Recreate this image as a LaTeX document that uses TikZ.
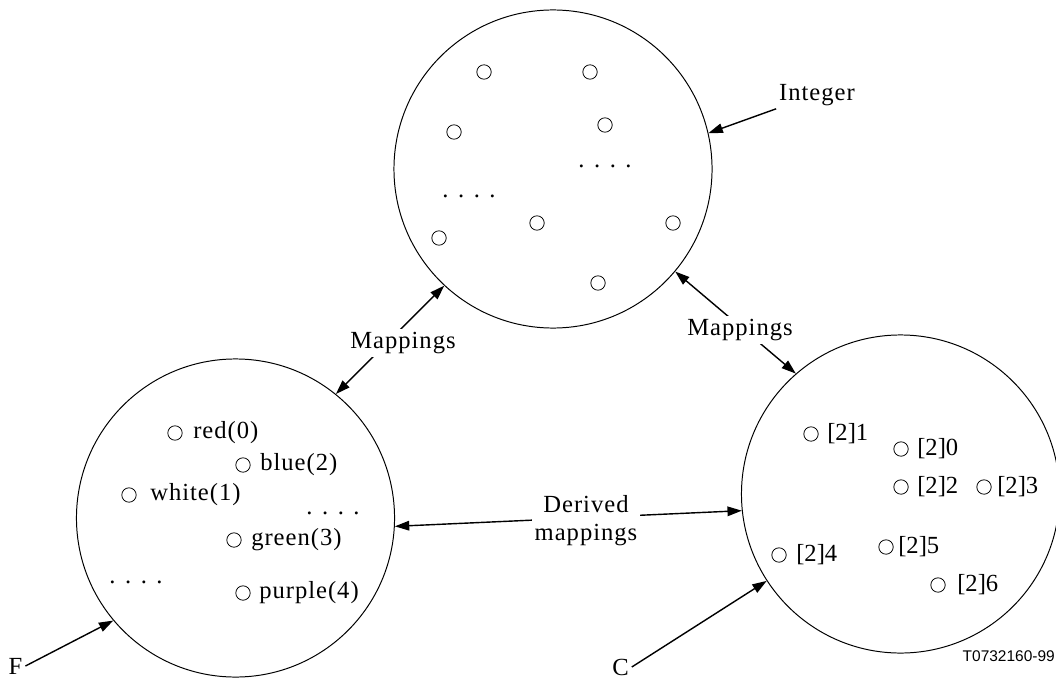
\documentclass[tikz,border=0pt]{standalone}
\usepackage{fontspec}
\setmainfont{Liberation Serif}
\newfontfamily\spacedrm{Liberation Serif}[LetterSpace=4]
\newfontfamily\codefont{Liberation Sans}
\usetikzlibrary{arrows.meta}

\begin{document}
\begin{tikzpicture}[
    x=0.025cm, y=-0.025cm,
    >={Triangle[length=0.36cm, width=0.24cm]},
    set/.style={circle, draw, line width=0.7pt, minimum size=7.95cm, inner sep=0},
    elt/.style={circle, draw, line width=0.55pt, minimum size=0.36cm, inner sep=0},
    lbl/.style={font=\spacedrm\fontsize{17.5}{20}\selectfont, inner sep=2pt},
    val/.style={font=\fontsize{17.5}{20}\selectfont, inner sep=0, anchor=west},
    arrow/.style={->, line width=1pt},
    twoway/.style={<->, line width=1pt}
]
\useasboundingbox (0,0) rectangle (1056,682);

% the three sets
\node[set] (int) at (553,169) {};
\node[set] (lft) at (235.5,518) {};
\node[set] (rgt) at (900.5,494) {};

% Integer values
\foreach \x/\y [count=\i] in {484/72, 590/72, 454/132, 605/125, 537/223, 673/223, 439/238, 598/283}
    \node[elt] (t\i) at (\x,\y) {};
\node[lbl] (tdots1) at (605,166) {. . . .};
\node[lbl] (tdots2) at (469,196) {. . . .};

% F values
\foreach \n/\x/\y/\tx/\s in {red/175/433/193/red(0), blue/243/465/260/blue(2), white/129/495/150/white(1), green/234/540/251/green(3), purple/243/593/259/purple(4)} {
    \node[elt] (\n) at (\x,\y) {};
    \node[val, font=\spacedrm\fontsize{17.5}{20}\selectfont] (\n-l) at (\tx,\y) {\s};
}
\node[lbl] (fdots1) at (333,513) {. . . .};
\node[lbl] (fdots2) at (136,582) {. . . .};

% C values
\foreach \n/\x/\y/\tx/\s in {c1/811/434/827/{[2]1}, c0/901/449/917/{[2]0}, c2/901/487/917/{[2]2}, c3/984/487/997/{[2]3}, c4/779/555/796/{[2]4}, c5/886/547/898/{[2]5}, c6/938/585/957/{[2]6}} {
    \node[elt] (\n) at (\x,\y) {};
    \node[val] (\n-l) at (\tx,\y) {\s};
}

% mappings
\draw[twoway] (lft.51) -- (int.227);
\node[lbl, fill=white] (mapl) at (403,343) {Mappings};
\draw[twoway] (int.-40.5) -- (rgt.131.6);
\node[lbl, fill=white] (mapr) at (740,330) {Mappings};
\draw[twoway] (lft.-3.5) -- (rgt.186);
\node[lbl, fill=white, align=center] (derived) at (586,521) {Derived\\mappings};

% names
\node[lbl] (intname) at (817,95) {Integer};
\draw[arrow] (intname.south west) -- (int.13.6);
\node[lbl] (F) at (15.5,666) {F};
\draw[arrow] (F.east) -- (lft.220);
\node[lbl] (C) at (620.5,667) {C};
\draw[arrow] (C.east) -- (rgt.213);

\node[font=\codefont\fontsize{11}{13}\selectfont, anchor=east, inner sep=0] (code) at (1055,656) {T0732160-99};
\end{tikzpicture}
\end{document}
